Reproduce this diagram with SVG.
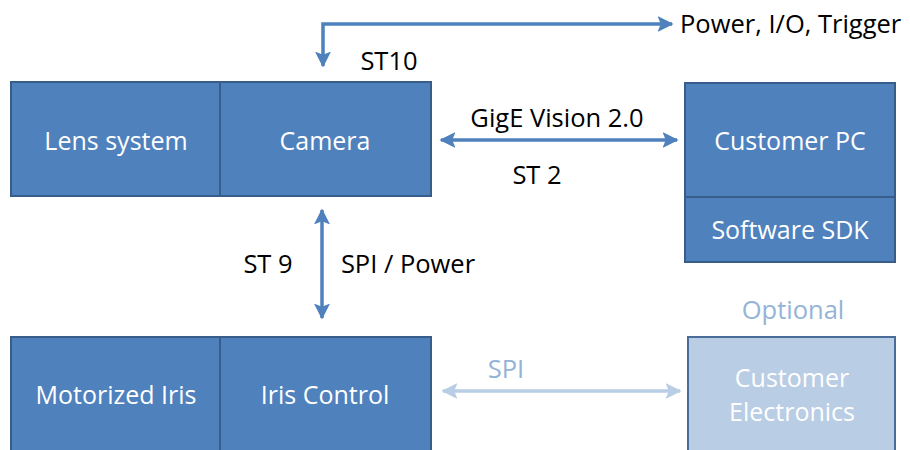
<svg xmlns="http://www.w3.org/2000/svg" width="910" height="450" viewBox="0 0 910 450">
<defs>
<style>
.box{fill:#4F81BD;stroke:#385D8A;stroke-width:2}
.lbox{fill:#B9CDE5;stroke:#4A6C99;stroke-width:2}
.wt{font-family:"Open Sans","Liberation Sans",sans-serif;font-size:25px;fill:#FFFFFF;text-anchor:middle;dominant-baseline:central}
.bt{font-family:"Open Sans","Liberation Sans",sans-serif;font-size:25.5px;font-weight:500;fill:#000000;dominant-baseline:central}
.conn{fill:none;stroke:#4F81BD;stroke-width:3.5}
.lconn{fill:none;stroke:#B9CDE5;stroke-width:3.5}
</style>
<marker id="ah" viewBox="0 0 10 10" refX="9" refY="5" markerWidth="4.6" markerHeight="4.6" orient="auto-start-reverse" markerUnits="strokeWidth">
<path d="M0,0 L10,5 L0,10 L2,5 z" fill="#4F81BD"/>
</marker>
<marker id="ahl" viewBox="0 0 10 10" refX="9" refY="5" markerWidth="4.6" markerHeight="4.6" orient="auto-start-reverse" markerUnits="strokeWidth">
<path d="M0,0 L10,5 L0,10 L2,5 z" fill="#B9CDE5"/>
</marker>
</defs>
<rect width="910" height="450" fill="#FFFFFF"/>
<g id="connectors">
<path class="conn" d="M323,66 L323,24 L672,24" marker-start="url(#ah)" marker-end="url(#ah)"/>
<path class="conn" d="M441,140 L677,140" marker-start="url(#ah)" marker-end="url(#ah)"/>
<path class="conn" d="M322,210 L322,318" marker-start="url(#ah)" marker-end="url(#ah)"/>
<path class="lconn" d="M443,391 L680,391" marker-start="url(#ahl)" marker-end="url(#ahl)"/>
</g>
<g id="lens-system"><rect class="box" x="11" y="82" width="209" height="114"/><text class="wt" x="116" y="140">Lens system</text></g>
<g id="camera"><rect class="box" x="220" y="82" width="211" height="114"/><text class="wt" x="325" y="140">Camera</text></g>
<g id="customer-pc"><rect class="box" x="685" y="83" width="210" height="114"/><text class="wt" x="790" y="140">Customer PC</text></g>
<g id="software-sdk"><rect class="box" x="685" y="197" width="210" height="65"/><text class="wt" x="790" y="229">Software SDK</text></g>
<g id="motorized-iris"><rect class="box" x="11" y="337" width="209" height="120"/><text class="wt" x="116" y="394">Motorized Iris</text></g>
<g id="iris-control"><rect class="box" x="220" y="337" width="211" height="120"/><text class="wt" x="325" y="394">Iris Control</text></g>
<g id="customer-electronics"><rect class="lbox" x="688" y="337" width="207" height="120"/><text class="wt" x="792" y="377">Customer</text><text class="wt" x="792" y="411">Electronics</text></g>
<g id="labels">
<text class="bt" x="680" y="23">Power, I/O, Trigger</text>
<text class="bt" x="389" y="60" text-anchor="middle" style="font-weight:400">ST10</text>
<text class="bt" x="557" y="117" text-anchor="middle">GigE Vision 2.0</text>
<text class="bt" x="537" y="174" text-anchor="middle" style="font-weight:400">ST 2</text>
<text class="bt" x="268" y="263" text-anchor="middle" style="font-weight:400">ST 9</text>
<text class="bt" x="408" y="263" text-anchor="middle">SPI / Power</text>
<text class="bt" x="506" y="368" text-anchor="middle" style="fill:#95B3D7">SPI</text>
<text class="bt" x="793" y="309" text-anchor="middle" style="fill:#95B3D7">Optional</text>
</g>
</svg>
